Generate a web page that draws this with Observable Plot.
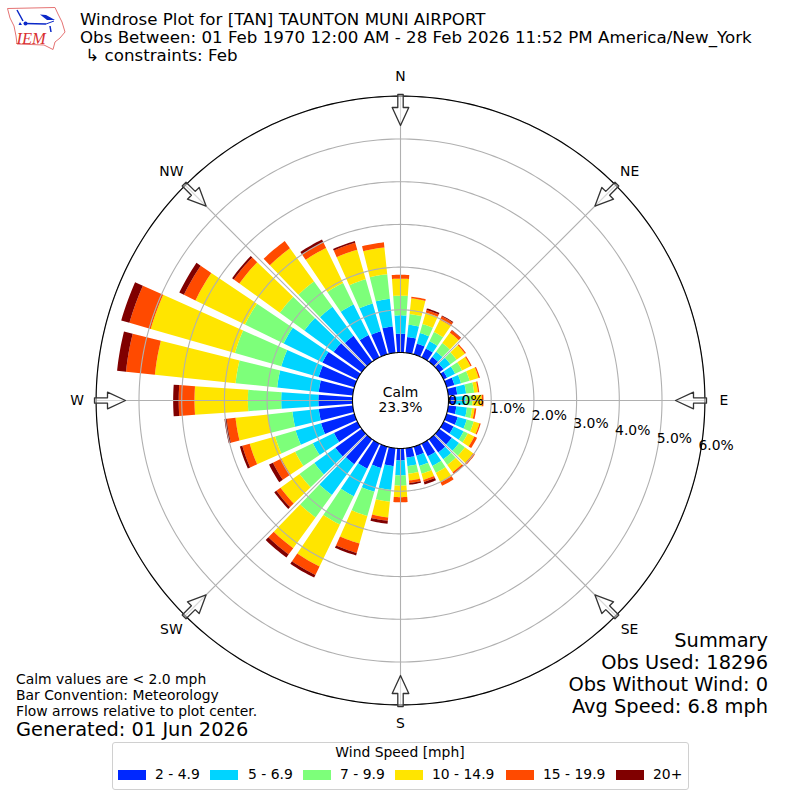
<!DOCTYPE html>
<html>
<head>
<meta charset="utf-8">
<script src="https://cdn.jsdelivr.net/npm/d3@7"></script>
<script src="https://cdn.jsdelivr.net/npm/@observablehq/plot@0.6"></script>
<style>
html,body{margin:0;padding:0;background:#fff;}
body{width:800px;height:800px;position:relative;overflow:hidden;font-family:"DejaVu Sans",sans-serif;color:#000;}
.t{position:absolute;white-space:pre;line-height:1;}
#chart{position:absolute;left:0;top:0;}
#chart svg{display:block;background:transparent;}
</style>
</head>
<body>
<div id="chart"></div>
<svg id="logo" width="72" height="56" style="position:absolute;left:0;top:0" viewBox="0 0 72 56">
  <path d="M7.5,8.5 L55,7.5 L58,14 L62,22 L65,32 L60,38 L55,42 L53,49.5 L44,45 L17,44 L16,36 L14,26 L10,18 Z" fill="#fff" stroke="#e57373" stroke-width="1"/>
  <path d="M25,23.5 L46,24 M17,10 L23,21 M50,26 L51,32" fill="none" stroke="#0b28c8" stroke-width="1.5"/>
  <path d="M40,14.5 L46,15 L55,20 L47,20 Z" fill="#0b28c8"/>
  <path d="M46,24 L54,21" fill="none" stroke="#0b28c8" stroke-width="1"/>
  <circle cx="25.5" cy="23.5" r="2" fill="#0b28c8"/><path d="M20,22 L22,25 L18.5,25 Z" fill="#0b28c8"/>
  <text x="16.5" y="43.5" font-family="Liberation Serif" font-style="italic" font-size="16.5" fill="#d93030">IEM</text>
</svg>
<script>
const bands = ["2 - 4.9","5 - 6.9","7 - 9.9","10 - 14.9","15 - 19.9","20+"];
const colors = ["#0028ff","#00d4ff","#7dff7a","#ffe500","#ff4a00","#800000"];
const directions = d3.range(0,360,10);
const s2  = [.44,.37,.26,.23,.14,.12,.09,.19,.21,.16,.19,.27,.26,.36,.38,.33,.22,.22,.28,.42,.52,.65,.72,.76,.61,.81,.80,.80,.80,.87,.91,.81,.75,.58,.56,.62];
const s5  = [.43,.29,.26,.19,.15,.20,.21,.16,.21,.24,.25,.22,.26,.21,.20,.25,.25,.20,.35,.56,.58,.72,.89,.61,.55,.62,.62,.87,.98,.91,1.01,.85,.84,.80,.68,.65];
const s7  = [.46,.25,.22,.24,.25,.18,.18,.21,.19,.16,.12,.17,.11,.17,.16,.18,.19,.18,.24,.28,.59,.74,.65,.43,.46,.50,.58,.78,.98,1.13,1.01,.71,.73,.56,.59,.58];
const s10 = [.40,.37,.28,.32,.30,.24,.22,.22,.09,.22,.06,.14,.17,.24,.21,.25,.15,.16,.27,.37,.67,1.09,.89,.55,.36,.62,.76,1.25,1.90,2.05,1.29,1.17,.96,.91,.72,.63];
const s15 = [.09,.04,.06,.09,.07,.03,.03,.03,.03,.04,.04,.03,.07,.05,.05,.09,.05,.06,.12,.08,.23,.22,.18,.12,.22,.18,.21,.37,.68,.52,.30,.16,.21,.15,.17,.12];
const s20 = [0,0,.04,.02,.01,0,0,0,0,0,0,0,0,0,0,0,.06,.04,0,.07,.06,.07,.09,.06,.10,.06,.05,.13,.21,.20,.12,.05,0,.07,.04,0];
const series = [s2,s5,s7,s10,s15,s20];
const rings = [1,2,3,4,5,6];
const compass = [["N",0],["NE",45],["E",90],["SE",135],["S",180],["SW",225],["W",270],["NW",315]];
const summaryLines = ["Summary","Obs Used: 18296","Obs Without Wind: 0","Avg Speed: 6.8 mph"];

// radial axis: 0% sits on the calm circle
const pxPerPct = 42.7, hole = 48/pxPerPct, rMax = 6 + hole + 0.005;
const pol = (r,deg)=>({x:r*Math.sin(deg*Math.PI/180), y:r*Math.cos(deg*Math.PI/180)});
const halfWidth = 4;

const wedges = [];
directions.forEach((dir,i)=>{
  let lo = 0;
  series.forEach((vals,b)=>{
    const hi = lo + vals[i];
    if (vals[i] > 0) {
      const id = dir+"-"+b, pts = [];
      for (let a=-halfWidth;a<=halfWidth;a+=1) pts.push(pol(hole+hi,dir+a));
      for (let a=halfWidth;a>=-halfWidth;a-=1) pts.push(pol(hole+lo,dir+a));
      pts.push(pts[0]);
      pts.forEach(p=>wedges.push({...p,id,band:bands[b]}));
    }
    lo = hi;
  });
});

const circleAt = r => d3.range(0,361,1).map(a=>pol(r,a));
const ringPts = rings.flatMap(v=>circleAt(hole+v).map(p=>({...p,v})));
const spokes = compass.map(([n,a])=>{
  const p=pol(hole,a), q=pol(rMax,a);
  return {x1:p.x,y1:p.y,x2:q.x,y2:q.y};
});
// arrow outline along the radius (units: px along / across)
const arrowShape = [[306,-2.7],[293,-2.7],[293,-8.3],[275,0],[293,8.3],[293,2.7],[306,2.7],[306,-2.7]];
const arrows = compass.flatMap(([n,a])=>arrowShape.map(([al,ac])=>{
  const t=a*Math.PI/180, r=al/pxPerPct, c=ac/pxPerPct;
  return {x:r*Math.sin(t)+c*Math.cos(t), y:r*Math.cos(t)-c*Math.sin(t), n};
}));
const compassLabels = compass.map(([n,a])=>{
  const diag = a%90!==0;
  const r = (diag?324:323.5)/pxPerPct;
  return {...pol(r,a),n};
});
const rLabels = [0,...rings].map(v=>({
  x:(65.5+41.67*v)/pxPerPct, y:-(0.5+7.5*v)/pxPerPct, t:v.toFixed(1)+"%"
}));

const plot = Plot.plot({
  width:800,height:800,margin:0,
  style:{background:"transparent",fontFamily:"DejaVu Sans"},
  x:{domain:[-rMax,rMax],range:[400-rMax*pxPerPct,400+rMax*pxPerPct],axis:null},
  y:{domain:[-rMax,rMax],range:[400+rMax*pxPerPct,400-rMax*pxPerPct],axis:null},
  color:{domain:bands,range:colors},
  marks:[
    Plot.line(wedges,{x:"x",y:"y",z:"id",fill:"band",stroke:"none"}),
    Plot.line(ringPts,{x:"x",y:"y",z:"v",stroke:"#b0b0b0",strokeWidth:1.1}),
    Plot.link(spokes,{x1:"x1",y1:"y1",x2:"x2",y2:"y2",stroke:"#b0b0b0",strokeWidth:1.1}),
    Plot.line(circleAt(rMax),{x:"x",y:"y",stroke:"#000",strokeWidth:1.1}),
    Plot.line(arrows,{x:"x",y:"y",z:"n",fill:"#fff",fillOpacity:0.5,stroke:"#333",strokeWidth:1.3}),
    Plot.line(circleAt(hole),{x:"x",y:"y",fill:"#fff",stroke:"#000",strokeWidth:1.1}),
    Plot.text(compassLabels,{x:"x",y:"y",text:"n",fontSize:13.9,fill:"#000"}),
    Plot.text(rLabels,{x:"x",y:"y",text:"t",fontSize:13.9,fill:"#000"}),
    Plot.text(["Calm","23.3%"],{x:[0,0],y:[8/pxPerPct,-7/pxPerPct],text:d=>d,fontSize:13.9,fill:"#000"})
  ]
});
document.getElementById("chart").append(plot);

function addText(s,opts){
  const d=document.createElement("div");
  d.className="t"; d.textContent=s;
  Object.assign(d.style,opts);
  document.body.append(d);
  return d;
}
const titleLines = ["Windrose Plot for [TAN] TAUNTON MUNI AIRPORT",
  "Obs Between: 01 Feb 1970 12:00 AM - 28 Feb 2026 11:52 PM America/New_York",
  " \u21B3 constraints: Feb"];
titleLines.forEach((s,i)=>addText(s,{left:"80px",top:(12+18*i)+"px",fontSize:"16.67px"}));
["Calm values are < 2.0 mph","Bar Convention: Meteorology","Flow arrows relative to plot center."]
  .forEach((s,i)=>addText(s,{left:"16px",top:(673+16*i)+"px",fontSize:"13.9px"}));
addText("Generated: 01 Jun 2026",{left:"16px",top:"720px",fontSize:"19.4px"});
summaryLines.forEach((s,i)=>addText(s,{right:"32px",top:(630.5+22*i)+"px",fontSize:"19.4px"}));

// legend
const box=document.createElement("div");
Object.assign(box.style,{position:"absolute",left:"112px",top:"742px",width:"575px",height:"46px",border:"1px solid #d0d0d0",borderRadius:"3px",boxSizing:"content-box",background:"#fff"});
document.body.append(box);
addText("Wind Speed [mph]",{left:"0",width:"800px",textAlign:"center",top:"746px",fontSize:"13.9px"});
const swatchX=[118,210,303,395,506,616], labelX=[155,248,340,432,543,653];
bands.forEach((b,i)=>{
  const s=document.createElement("div");
  Object.assign(s.style,{position:"absolute",left:swatchX[i]+"px",top:"770px",width:"28px",height:"10px",background:colors[i]});
  document.body.append(s);
  addText(b,{left:labelX[i]+"px",top:"768px",fontSize:"13.9px"});
});
</script>
</body>
</html>
